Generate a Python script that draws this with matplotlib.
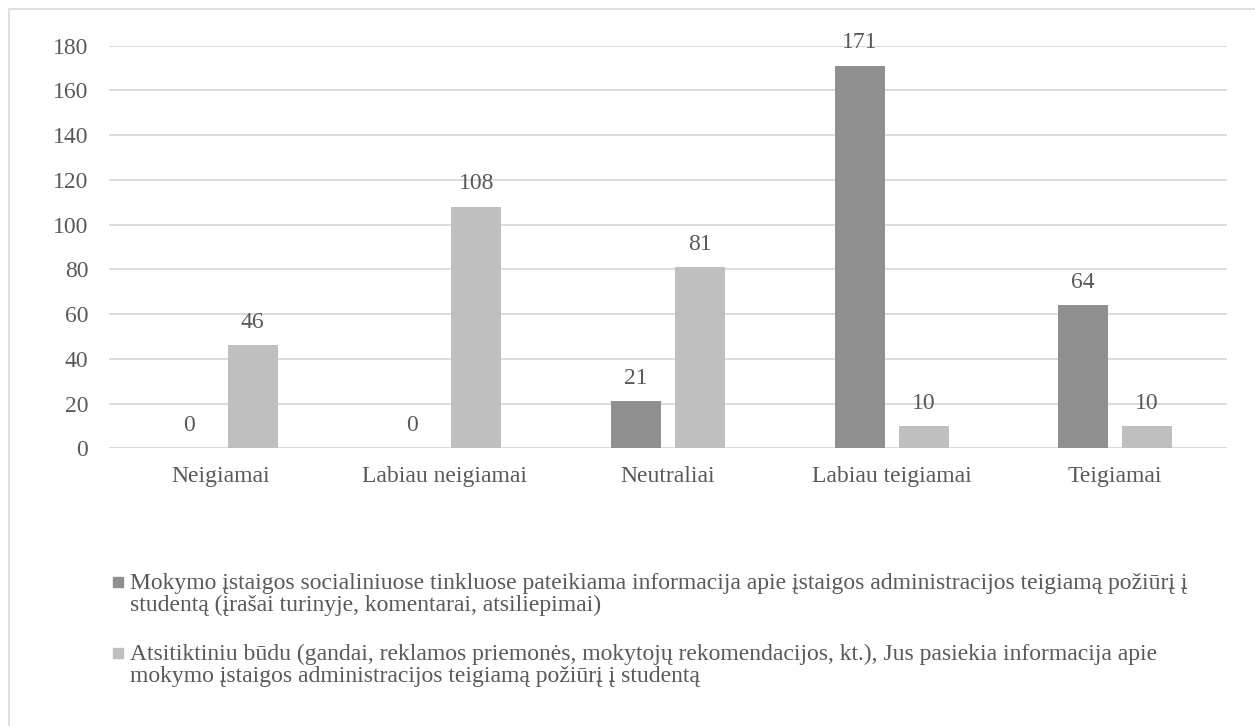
import numpy as np
import matplotlib.pyplot as plt
from matplotlib.patches import Rectangle

plt.rcParams['font.family'] = ['Liberation Serif', 'DejaVu Serif']

categories = ["Neigiamai", "Labiau neigiamai", "Neutraliai", "Labiau teigiamai", "Teigiamai"]
social = [0, 0, 21, 171, 64]
random_way = [46, 108, 81, 10, 10]
yticks = [0, 20, 40, 60, 80, 100, 120, 140, 160, 180]

label_social = ("Mokymo įstaigos socialiniuose tinkluose pateikiama informacija apie įstaigos "
                "administracijos teigiamą požiūrį į\nstudentą (įrašai turinyje, komentarai, atsiliepimai)")
label_random = ("Atsitiktiniu būdu (gandai, reklamos priemonės, mokytojų rekomendacijos, kt.), "
                "Jus pasiekia informacija apie\nmokymo įstaigos administracijos teigiamą požiūrį į studentą")

dark = "#8f8f8f"
light = "#bfbfbf"
txt = "#595959"
grid = "#d9d9d9"
fs = 17

W, H = 1255, 726
fig = plt.figure(figsize=(W / 100, H / 100), dpi=100)
ax = fig.add_axes([109 / W, 1 - 448.3 / H, (1227 - 109) / W, (448.3 - 45.7) / H])

x = np.arange(len(categories))
off = 0.143
bw = 0.224
b1 = ax.bar(x - off, social, bw, color=dark, zorder=3)
b2 = ax.bar(x + off, random_way, bw, color=light, zorder=3)

for bars, vals in ((b1, social), (b2, random_way)):
    for b, v in zip(bars, vals):
        ax.annotate(str(v), (b.get_x() + b.get_width() / 2, v), xytext=(0, 16.5),
                    textcoords="offset points", ha="center", va="center",
                    fontsize=fs, color=txt)

ax.set_xlim(-0.5, len(categories) - 0.5)
ax.set_ylim(0, 180)
ax.set_yticks(yticks)
ax.set_xticks(x)
ax.set_xticklabels(categories)
ax.tick_params(axis="y", length=0, pad=15, labelsize=fs, labelcolor=txt)
ax.tick_params(axis="x", length=0, pad=13, labelsize=fs, labelcolor=txt)
ax.yaxis.grid(True, color=grid, linewidth=1.3, zorder=0)
ax.set_axisbelow(True)
for s in ax.spines.values():
    s.set_visible(False)
ax.axhline(0, color=grid, linewidth=1.3, zorder=2)

# legend drawn by hand: square marker + wrapped text
for color, label, y_first in ((dark, label_social, 582), (light, label_random, 653)):
    fig.patches.append(Rectangle((113 / W, 1 - (y_first + 5) / H), 10 / W, 10 / H,
                                 transform=fig.transFigure, color=color, figure=fig))
    fig.text(130 / W, 1 - (y_first - 9) / H, label, ha="left", va="top",
             fontsize=fs, color=txt, linespacing=1.03)

# outer frame (only top and left edges fall inside the image)
fig.patches.append(Rectangle((8.5 / W, -0.1), 1.2, 1 - 9 / H + 0.1, transform=fig.transFigure,
                             fill=False, edgecolor=grid, linewidth=1.2, figure=fig))

fig.savefig("out.png", dpi=100)
